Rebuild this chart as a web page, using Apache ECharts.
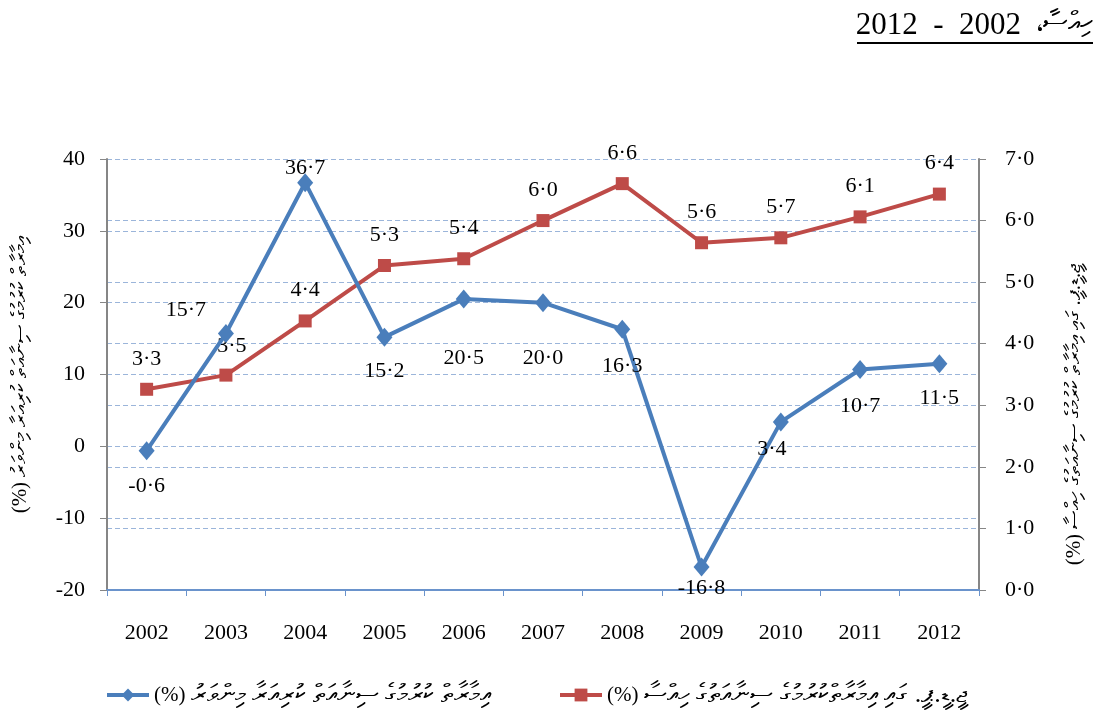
<!DOCTYPE html>
<html>
<head>
<meta charset="utf-8">
<script src="https://cdn.jsdelivr.net/npm/echarts@6/dist/echarts.min.js"></script>
<style>
  html, body { margin: 0; padding: 0; background: #fff; }
  #chart { width: 1111px; height: 712px; }
</style>
</head>
<body>
<div id="chart"></div>
<script>
// years on the x axis
const years = ['2002', '2003', '2004', '2005', '2006', '2007', '2008', '2009', '2010', '2011', '2012']
// construction industry growth rate (%), left axis
const growth = [-0.6, 15.7, 36.7, 15.2, 20.5, 20.0, 16.3, -16.8, 3.4, 10.7, 11.5]
// construction share of GDP (%), right axis
const gdpShare = [3.26, 3.49, 4.37, 5.27, 5.38, 6.0, 6.6, 5.64, 5.72, 6.06, 6.43]

const titleYears = '2012  -  2002'
const titleWord = 'ހިއްސާ،'
const growthName = 'އިމާރާތް ކުރުމުގެ ސިނާއަތް ކުރިއަރާ މިންވަރު'
const shareName = 'ޖީ.ޑީ.ޕީ. ގައި އިމާރާތްކުރުމުގެ ސިނާއަތުގެ ހިއްސާ'
const shareAxisName = 'ޖީ.ޑީ.ޕީ. ގައި އިމާރާތް ކުރުމުގެ ސިނާއަތުގެ ހިއްސާ'

// how far from its point each blue label sits
const blueLabelDist = [15, 3, 0, 14, 39, 35, 16, 1, 7, 16, 14]

const serif = '"Liberation Serif", "Times New Roman", serif'
const blue = '#4a7ebb'
const red = '#be4b48'
const grid = '#9bb5da'
const dot = v => v.toFixed(1).replace('.', '·')

const chart = echarts.init(document.getElementById('chart'))

const blueData = growth.map((v, i) => {
  let label = { position: 'bottom', distance: blueLabelDist[i] }
  if (i === 1) label = { position: 'top', distance: blueLabelDist[i], offset: [-40, 0] }
  if (i === 2) label = { position: 'top', distance: blueLabelDist[i], offset: [0, 6] }
  if (i === 8) label = { position: 'bottom', distance: blueLabelDist[i], offset: [-9, 0] }
  return { value: v, label }
})

const redData = gdpShare.map((v, i) => {
  const item = { value: v }
  if (i === 1) item.label = { offset: [6, 2] }
  return item
})

const legendText = {
  fontFamily: serif,
  fontSize: 21,
  color: '#000',
  rich: {
    p: { fontFamily: serif, fontSize: 21, color: '#000' },
    t: { fontFamily: serif, fontSize: 26, color: '#000' }
  }
}

const option = {
  backgroundColor: '#fff',
  animation: false,
  textStyle: { fontFamily: serif },
  grid: { left: 107, right: 132, top: 159, bottom: 122, containLabel: false, outerBoundsMode: 'none' },
  graphic: [
    {
      type: 'text',
      style: {
        x: 1021, y: 26, text: titleYears,
        textAlign: 'right', textVerticalAlign: 'middle',
        font: '31px ' + serif, fill: '#000'
      }
    },
    {
      type: 'text',
      style: {
        x: 1093, y: 24, text: titleWord + '\u200F',
        textAlign: 'right', textVerticalAlign: 'middle',
        font: '28px ' + serif, fill: '#000'
      }
    },
    {
      type: 'line',
      shape: { x1: 857, y1: 43, x2: 1093, y2: 43 },
      style: { stroke: '#000', lineWidth: 2 }
    }
  ],
  legend: [
    {
      left: 100,
      top: 677,
      data: ['growth'],
      itemWidth: 42,
      itemHeight: 16,
      lineStyle: { width: 4 },
      formatter: () => '{p|(%)} {t|' + growthName + '}',
      textStyle: legendText
    },
    {
      left: 553,
      top: 677,
      data: ['share'],
      itemWidth: 42,
      itemHeight: 16,
      lineStyle: { width: 4 },
      formatter: () => '{p|(%)} {t|' + shareName + '}',
      textStyle: legendText
    }
  ],
  xAxis: {
    type: 'category',
    data: years,
    boundaryGap: true,
    axisLine: { onZero: false, lineStyle: { color: '#6a93cc', width: 2 } },
    axisTick: { show: true, length: 6, lineStyle: { color: '#6a93cc', width: 1 } },
    axisLabel: { margin: 32, fontSize: 22, color: '#000', fontFamily: serif }
  },
  yAxis: [
    {
      type: 'value',
      min: -20,
      max: 40,
      interval: 10,
      name: '(%) ' + growthName,
      nameLocation: 'middle',
      nameGap: 76,
      nameRotate: 90,
      nameTextStyle: { fontFamily: serif, fontSize: 21, color: '#000' },
      axisLine: { show: true, lineStyle: { color: '#868686', width: 2 } },
      axisTick: { show: true, inside: false, length: 7, lineStyle: { color: '#868686' } },
      axisLabel: { margin: 22, fontSize: 22, color: '#000', fontFamily: serif },
      splitLine: { show: true, lineStyle: { color: grid, type: [5, 3], width: 1 } }
    },
    {
      type: 'value',
      min: 0,
      max: 7,
      interval: 1,
      position: 'right',
      name: '(%) ' + shareAxisName,
      nameLocation: 'middle',
      nameGap: 85,
      nameRotate: 90,
      nameTextStyle: { fontFamily: serif, fontSize: 21, color: '#000', padding: [0, 80, 0, 0] },
      axisLine: { show: true, lineStyle: { color: '#868686', width: 2 } },
      axisTick: { show: true, inside: false, length: 7, lineStyle: { color: '#868686' } },
      axisLabel: { margin: 26, fontSize: 22, color: '#000', fontFamily: serif, formatter: v => dot(v) },
      splitLine: { show: true, lineStyle: { color: grid, type: [5, 3], width: 1 } }
    }
  ],
  series: [
    {
      name: 'growth',
      type: 'line',
      yAxisIndex: 0,
      data: blueData,
      symbol: 'diamond',
      symbolSize: [16, 19],
      itemStyle: { color: blue },
      lineStyle: { color: blue, width: 4 },
      label: {
        show: true,
        fontSize: 22,
        color: '#000',
        fontFamily: serif,
        formatter: p => dot(p.value)
      },
      z: 3
    },
    {
      name: 'share',
      type: 'line',
      yAxisIndex: 1,
      data: redData,
      symbol: 'rect',
      symbolSize: 13,
      itemStyle: { color: red },
      lineStyle: { color: red, width: 4 },
      label: {
        show: true,
        position: 'top',
        distance: 13,
        fontSize: 22,
        color: '#000',
        fontFamily: serif,
        formatter: p => dot(p.value)
      },
      z: 2
    }
  ]
}

option && chart.setOption(option)
</script>
</body>
</html>
